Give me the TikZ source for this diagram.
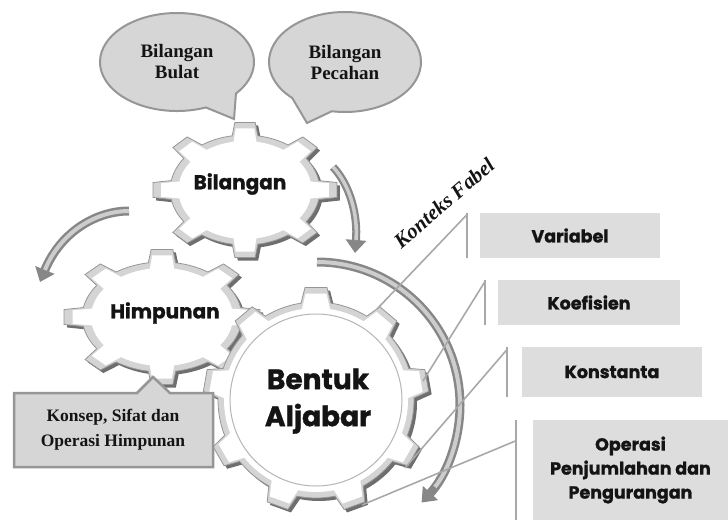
\documentclass[tikz,border=0pt]{standalone}
\usepackage{fontspec}
\setmainfont{Liberation Serif}
\newfontfamily\gearfont{Poppins}
\usetikzlibrary{arrows.meta,calc}
\definecolor{bubfill}{RGB}{214,214,214}
\definecolor{bubline}{RGB}{150,150,150}
\definecolor{boxfill}{RGB}{221,221,221}
\definecolor{linegray}{RGB}{168,168,168}
\definecolor{gearband}{RGB}{212,212,212}
\definecolor{gearedge}{RGB}{150,150,150}
\definecolor{gearshadow}{RGB}{110,110,110}
\definecolor{arrowdark}{RGB}{135,135,135}
\definecolor{arrowlight}{RGB}{205,205,205}
\definecolor{ink}{RGB}{20,20,20}
\newcommand\heavy{\gearfont\bfseries\addfontfeature{FakeBold=1.2}}
\tikzset{
  pics/gear/.style n args={4}{code={
    \path[pic actions] ({#4-0.22*360/#1}:{#2})
      \foreach \k [evaluate=\k as \c using {#4+(\k-1)*360/#1}] in {1,...,#1}{
        -- ({\c-0.14*360/#1}:{#3}) -- ({\c+0.14*360/#1}:{#3}) -- ({\c+0.22*360/#1}:{#2})
        arc[start angle={\c+0.22*360/#1}, end angle={\c+0.78*360/#1}, radius={#2}]
      } -- cycle;
  }},
  bubble/.style={fill=bubfill, draw=bubline, line width=2pt},
  bubtext/.style={font=\bfseries\fontsize{19}{21}\selectfont, align=center, text=ink},
  rbox/.style={fill=boxfill, inner sep=0pt, align=center, text=ink,
    font=\heavy\fontsize{17.5}{24}\selectfont},
  vline/.style={draw=linegray, line width=2pt},
  conn/.style={draw=linegray, line width=1.6pt},
  bigarrow/.style={draw=arrowdark, line width=#1, -{Triangle[width=20pt,length=13pt]}},
  arrowcore/.style={draw=arrowlight, line width=#1, shorten >=13pt},
}
\newcommand\drawgear[7]{%
  \pic[fill=gearshadow, xscale=#3] at ({#1+3},{#2+3}) {gear={#4}{#5}{#6}{#7}};
  \pic[fill=gearband, draw=gearedge, line width=0.8pt, xscale=#3] at (#1,#2) {gear={#4}{#5}{#6}{#7}};
  \pic[fill=white, xscale=#3] at (#1,#2) {gear={#4}{#5-6}{#6-6}{#7}};
}
\begin{document}
\begin{tikzpicture}[x=1pt,y=-1pt]
\useasboundingbox (0,0) rectangle (728,520);
% speech bubbles
\coordinate (bub1) at (177,62);
\coordinate (bub2) at (345,62);
\coordinate (tip1) at (234,119);
\coordinate (tip2) at (307,123);
\path[bubble] ($(bub1)+(68:77 and 49)$) arc[start angle=68,end angle=400,x radius=77,y radius=49] -- (tip1) -- cycle;
\path[bubble] ($(bub2)+(134:76 and 50)$) arc[start angle=134,end angle=460,x radius=76,y radius=50] -- (tip2) -- cycle;
\node[bubtext] (tb1) at (177,62) {Bilangan\\Bulat};
\node[bubtext] (tb2) at (345,62) {Bilangan\\Pecahan};
% gears
\drawgear{245}{190}{1.36}{8}{55}{68}{-90}
\drawgear{162}{317}{1.45}{8}{55}{68}{-90}
\drawgear{316}{400}{1}{9}{98}{113}{-90}
\draw[gearedge!70, line width=1pt] (316,400) circle[radius=86];
\node[font=\heavy\fontsize{20}{24}\selectfont, text=ink] (gbil) at (240,184) {Bilangan};
\node[font=\heavy\fontsize{20}{24}\selectfont, text=ink] (ghim) at (165,313) {Himpunan};
\node[font=\heavy\fontsize{28}{37}\selectfont, align=center, text=ink] (gbent) at (318,401) {Bentuk\\Aljabar};
% curved arrows
\coordinate (a1s) at (333,167);
\coordinate (a1e) at (355,253);
\coordinate (a2s) at (129,211);
\coordinate (a2e) at (40,282);
\coordinate (a3s) at (317,262);
\draw[bigarrow=8pt] (a1s) .. controls (350,185) and (358,215) .. (a1e);
\draw[arrowcore=3.5pt] (a1s) .. controls (350,185) and (358,215) .. (a1e);
\draw[bigarrow=9pt] (a2s) .. controls (95,211) and (60,233) .. (a2e);
\draw[arrowcore=4pt] (a2s) .. controls (95,211) and (60,233) .. (a2e);
\draw[bigarrow=9pt] (a3s) arc[start angle=-90,end angle=43,radius=143];
\draw[arrowcore=4pt] (a3s) arc[start angle=-90,end angle=40,radius=143];
% context label
\node[rotate=41, inner sep=0pt, font=\bfseries\itshape\fontsize{21}{21}\selectfont, text=ink] (kf) at (444,203) {Konteks Fabel};
% right boxes
\node[rbox, minimum width=180, minimum height=45] (var) at (570,235.5) {Variabel};
\node[rbox, minimum width=182, minimum height=45] (koe) at (589,302.5) {Koefisien};
\node[rbox, minimum width=180, minimum height=50] (kon) at (612,372) {Konstanta};
\node[rbox, minimum width=195, minimum height=100] (ope) at (630.5,470) {Operasi\\Penjumlahan dan\\Pengurangan};
\draw[vline] ($(var.north west)+(-13,0)$) -- ($(var.south west)+(-13,0)$);
\draw[vline] ($(koe.north west)+(-13,0)$) -- ($(koe.south west)+(-13,0)$);
\draw[vline] ($(kon.north west)+(-15,0)$) -- ($(kon.south west)+(-15,0)$);
\draw[vline] ($(ope.north west)+(-17,0)$) -- ($(ope.south west)+(-17,0)$);
\coordinate (e1) at (377,309);
\coordinate (e2) at (423,381);
\coordinate (e3) at (405,468);
\coordinate (e4) at (362,505);
\draw[conn] ($(var.north west)+(-13,2)$) -- (e1);
\draw[conn] ($(koe.north west)+(-13,2)$) -- (e2);
\draw[conn] ($(kon.north west)+(-15,3)$) -- (e3);
\draw[conn] ($(ope.north west)+(-17,21)$) -- (e4);
% callout
\path[bubble, line width=2.5pt] (14,393) -- (137,393) -- (153,377) -- (170,393) -- (213,393) -- (213,467) -- (14,467) -- cycle;
\node[font=\bfseries\fontsize{17.5}{25}\selectfont, align=center, text=ink] (kons) at (113,430) {Konsep, Sifat dan\\Operasi Himpunan};
\end{tikzpicture}
\end{document}
